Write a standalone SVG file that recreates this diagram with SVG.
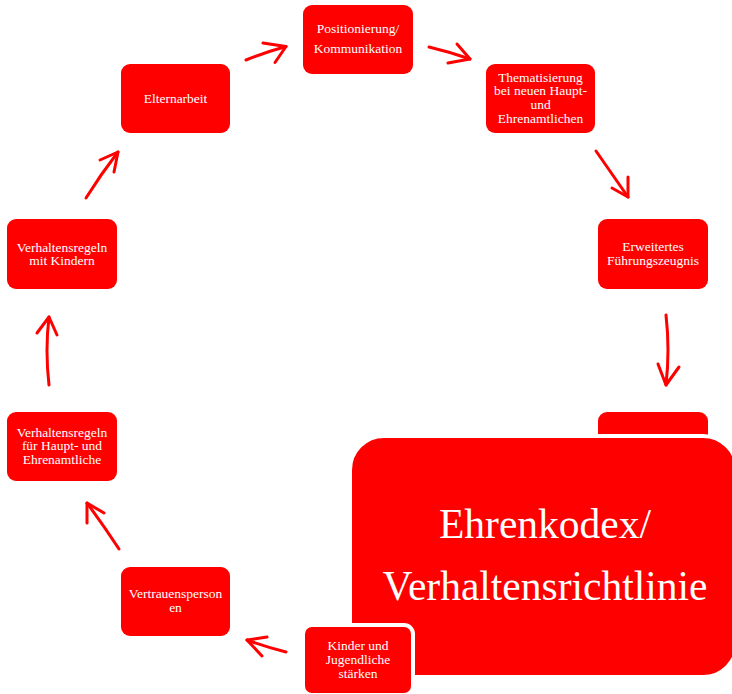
<svg xmlns="http://www.w3.org/2000/svg" width="732" height="694" viewBox="0 0 732 694">
<style>
.box{fill:#ff0000;}
.wbox{fill:#ff0000;stroke:#ffffff;stroke-width:4;}
.t{font-family:"Liberation Serif","Times New Roman",serif;font-size:13.5px;fill:#ffffff;text-anchor:middle;}
.big{font-family:"Liberation Serif","Times New Roman",serif;font-size:41.5px;fill:#ffffff;text-anchor:middle;}
.c path{fill:none;stroke:#ff0000;stroke-width:3;stroke-linecap:round;stroke-linejoin:round;}
</style>
<rect width="732" height="694" fill="#ffffff"/>
<g id="positionierung">
<rect class="box" x="303" y="5" width="110" height="69" rx="9"/>
<text class="t" x="358" y="33">Positionierung/</text>
<text class="t" x="358" y="52.5">Kommunikation</text>
</g>
<g id="thematisierung">
<rect class="box" x="486" y="64" width="109" height="69" rx="9"/>
<text class="t" x="540.5" y="81.5">Thematisierung</text>
<text class="t" x="540.5" y="95">bei neuen  Haupt-</text>
<text class="t" x="540.5" y="109">und</text>
<text class="t" x="540.5" y="122.5">Ehrenamtlichen</text>
</g>
<g id="fuehrungszeugnis">
<rect class="box" x="598" y="219" width="110" height="70" rx="9"/>
<text class="t" x="653" y="251">Erweitertes</text>
<text class="t" x="653" y="264.5">Führungszeugnis</text>
</g>
<g id="hidden">
<rect class="box" x="598" y="412" width="110" height="70" rx="9"/>
</g>
<g id="ehrenkodex">
<rect class="wbox" x="350" y="436" width="387" height="241" rx="34"/>
<text class="big" x="545" y="538">Ehrenkodex/</text>
<text class="big" x="545" y="600">Verhaltensrichtlinie</text>
</g>
<g id="kinder">
<rect class="wbox" x="303" y="625" width="110" height="70" rx="9"/>
<text class="t" x="358" y="650">Kinder und</text>
<text class="t" x="358" y="664">Jugendliche</text>
<text class="t" x="358" y="677.5">stärken</text>
</g>
<g id="vertrauenspersonen">
<rect class="box" x="121" y="567" width="109" height="69" rx="9"/>
<text class="t" x="175.5" y="597.5">Vertrauensperson</text>
<text class="t" x="175.5" y="612">en</text>
</g>
<g id="regeln-haupt">
<rect class="box" x="7" y="412" width="110" height="69" rx="9"/>
<text class="t" x="62" y="436.5">Verhaltensregeln</text>
<text class="t" x="62" y="450">für Haupt- und</text>
<text class="t" x="62" y="464">Ehrenamtliche</text>
</g>
<g id="regeln-kinder">
<rect class="box" x="7" y="219" width="110" height="70" rx="9"/>
<text class="t" x="62" y="251.5">Verhaltensregeln</text>
<text class="t" x="62" y="265">mit Kindern</text>
</g>
<g id="elternarbeit">
<rect class="box" x="121" y="64" width="109" height="69" rx="9"/>
<text class="t" x="175.5" y="102.5">Elternarbeit</text>
</g>
<g class="c" id="connectors">
<path d="M246,60 Q266,52 286,46.5"/><path d="M263,43 L286,46.5 L275,62.5"/>
<path d="M429,47 Q450,52 470,59"/><path d="M457,44 L470,59 L448,63"/>
<path d="M596,151 L628,197"/><path d="M612,188 L628,197 L628,177"/>
<path d="M666,315 Q670,350 666,385"/><path d="M658,364 L666,385 L679,367"/>
<path d="M286,652 Q266,647 247,640"/><path d="M267,637 L247,640 L262,656"/>
<path d="M119,549 Q104,526 87,503"/><path d="M87,523 L87,503 L104,513"/>
<path d="M49,385 Q45,350 49,317"/><path d="M37,333 L49,317 L57,335"/>
<path d="M86,198 Q101,174 118,152"/><path d="M100,160 L118,152 L114,172"/>
</g>
</svg>
